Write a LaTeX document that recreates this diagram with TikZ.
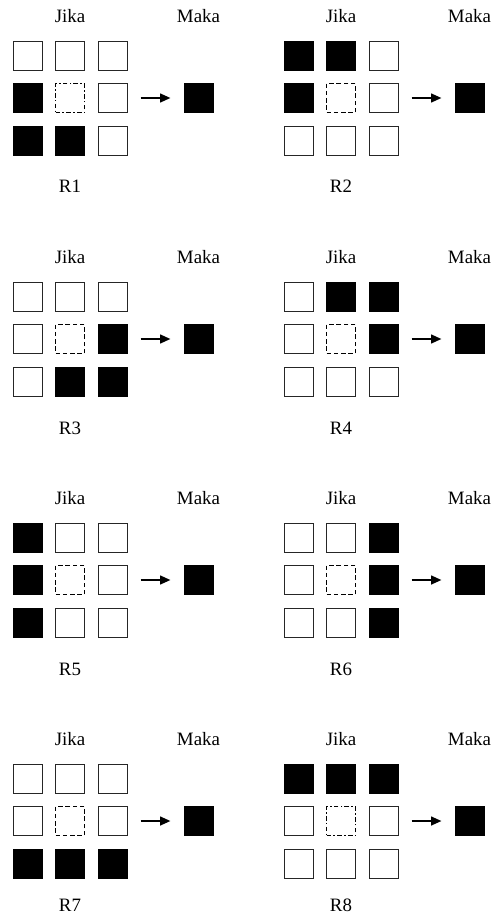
\documentclass[tikz,border=0pt]{standalone}
\usepackage{fontspec}
\setmainfont{Liberation Serif}
\usepackage{tikz}
\usetikzlibrary{arrows.meta}
\tikzset{
  cell/.style={rectangle,minimum size=18.4pt,inner sep=0pt,line width=0.6pt},
  cell0/.style={cell,draw=black!85,fill=white},
  cell1/.style={cell,draw=black,fill=black},
  cell2/.style={cell,draw=black,fill=white,line width=1.2pt,dash pattern=on 3pt off 1.6pt},
  cell3/.style={cell,draw=black,fill=white,line width=1.2pt,dash pattern=on 3pt off 1.4pt on 1pt off 1.4pt},
  lbl/.style={inner sep=0pt,anchor=base,font=\fontsize{12}{14}\selectfont},
  arrow/.style={-{Triangle[length=6.5pt,width=5.5pt]},line width=1.2pt,shorten <=8.3pt,shorten >=8.3pt}
}
\begin{document}
\begin{tikzpicture}[x=0.635pt,y=-0.635pt]
  \useasboundingbox (0,0) rectangle (493,913);
  % one block per rule: name / x offset / y offset / label y / cells (0 white, 1 black, 2 dashed, 3 dash-dot)
  \foreach \rname/\bx/\by/\ly/\pat in {
    R1/0/0/193/{0,0,0,1,3,0,1,1,0},
    R2/271/0/193/{1,1,0,1,2,0,0,0,0},
    R3/0/241/193/{0,0,0,0,2,1,0,1,1},
    R4/271/241/193/{0,1,1,0,2,1,0,0,0},
    R5/0/482/193/{1,0,0,1,2,0,1,0,0},
    R6/271/482/193/{0,0,1,0,2,1,0,0,1},
    R7/0/723/188/{0,0,0,0,2,0,1,1,1},
    R8/271/723/188/{1,1,1,0,3,0,0,0,0}}
  {
    \foreach \s [count=\i from 0] in \pat {
      \pgfmathtruncatemacro\row{\i/3}
      \pgfmathtruncatemacro\col{mod(\i,3)}
      \node[cell\s] (\rname-\i) at (\bx+27.5+42.5*\col,\by+55.5+42.5*\row) {};
    }
    \node[cell1] (\rname-out) at (\bx+198.5,\by+98) {};
    \draw[arrow] (\rname-5) -- (\rname-out);
    \node[lbl] (\rname-if) at (\bx+70,\by+22.5) {Jika};
    \node[lbl] (\rname-then) at (\bx+198.5,\by+22.5) {Maka};
    \node[lbl] (\rname-name) at (\bx+70,\by+\ly) {\rname};
  }
\end{tikzpicture}
\end{document}
